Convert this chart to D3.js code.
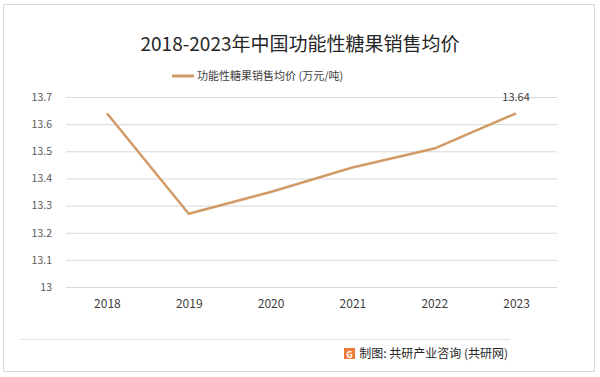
<!DOCTYPE html>
<html>
<head>
<meta charset="utf-8">
<script src="https://cdn.jsdelivr.net/npm/d3@7"></script>
<style>
  body { margin: 0; background: #fff; }
  text { font-family: "Microsoft YaHei", "Noto Sans CJK SC", sans-serif; }
</style>
</head>
<body>
<div id="chart"></div>
<script>
// data
const years = ["2018", "2019", "2020", "2021", "2022", "2023"];
const prices = [13.64, 13.27, 13.35, 13.44, 13.51, 13.64];
const yTicks = [13, 13.1, 13.2, 13.3, 13.4, 13.5, 13.6, 13.7];
const titleText = "2018-2023年中国功能性糖果销售均价";
const seriesName = "功能性糖果销售均价 (万元/吨)";
const sourceText = "制图: 共研产业咨询 (共研网)";

const W = 600, H = 377;
const margin = {top: 97, right: 43, bottom: 90, left: 66};
const innerW = W - margin.left - margin.right;
const innerH = H - margin.top - margin.bottom;
const lineColor = "#d29a66";

const svg = d3.select("#chart").append("svg")
    .attr("width", W)
    .attr("height", H);

// outer frame
svg.append("rect")
    .attr("x", 3.5).attr("y", 4.5)
    .attr("width", 591).attr("height", 367)
    .attr("fill", "#fff")
    .attr("stroke", "#d9d9d9");

svg.append("text")
    .attr("x", 300).attr("y", 51)
    .attr("text-anchor", "middle")
    .attr("font-size", 19)
    .attr("fill", "#262626")
    .text(titleText);

// legend
svg.append("line")
    .attr("x1", 172).attr("x2", 194)
    .attr("y1", 76).attr("y2", 76)
    .attr("stroke", lineColor).attr("stroke-width", 3);
svg.append("text")
    .attr("x", 197).attr("y", 80)
    .attr("font-size", 11)
    .attr("fill", "#404040")
    .text(seriesName);

const g = svg.append("g")
    .attr("transform", `translate(${margin.left},${margin.top})`);

const x = d3.scalePoint()
    .domain(years)
    .range([0, innerW])
    .padding(0.5);

const y = d3.scaleLinear()
    .domain([13, 13.7])
    .range([innerH, 0]);

// gridlines
const yAxis = d3.axisLeft(y)
    .tickValues(yTicks)
    .tickSize(-innerW)
    .tickFormat(d => d3.format("~g")(d));

g.append("g")
    .attr("class", "y-axis")
    .call(yAxis)
    .call(a => a.select(".domain").remove())
    .call(a => a.selectAll("line").attr("stroke", "#d9d9d9"))
    .call(a => a.selectAll("text")
        .attr("x", -14)
        .attr("fill", "#595959")
        .attr("font-size", 10.5));

const xAxis = d3.axisBottom(x).tickSize(0);

g.append("g")
    .attr("class", "x-axis")
    .attr("transform", `translate(0,${innerH})`)
    .call(xAxis)
    .call(a => a.select(".domain").remove())
    .call(a => a.selectAll("text")
        .attr("dy", 0)
        .attr("y", 21)
        .attr("fill", "#404040")
        .attr("font-size", 12));

const line = d3.line()
    .x((d, i) => x(years[i]))
    .y(d => y(d));

g.append("path")
    .datum(prices)
    .attr("d", line)
    .attr("fill", "none")
    .attr("stroke", lineColor)
    .attr("stroke-width", 2.5)
    .attr("stroke-linejoin", "round");

// label on last point
const last = prices.length - 1;
g.append("text")
    .attr("x", x(years[last]))
    .attr("y", y(prices[last]) - 12)
    .attr("text-anchor", "middle")
    .attr("font-size", 11)
    .attr("fill", "#404040")
    .text(d3.format(".2f")(prices[last]));

// footer
svg.append("line")
    .attr("x1", 20).attr("x2", 510)
    .attr("y1", 339.5).attr("y2", 339.5)
    .attr("stroke", "#e3e3e3");

const icon = svg.append("g").attr("transform", "translate(344,348)");
icon.append("rect")
    .attr("width", 11).attr("height", 11)
    .attr("fill", "#ee7a3a");
icon.append("text")
    .attr("x", 5.5).attr("y", 9.5)
    .attr("text-anchor", "middle")
    .attr("font-size", 9).attr("font-weight", "bold")
    .attr("fill", "#fff")
    .text("G");

svg.append("text")
    .attr("x", 508).attr("y", 358)
    .attr("text-anchor", "end")
    .attr("font-size", 12)
    .attr("fill", "#262626")
    .text(sourceText);
</script>
</body>
</html>
